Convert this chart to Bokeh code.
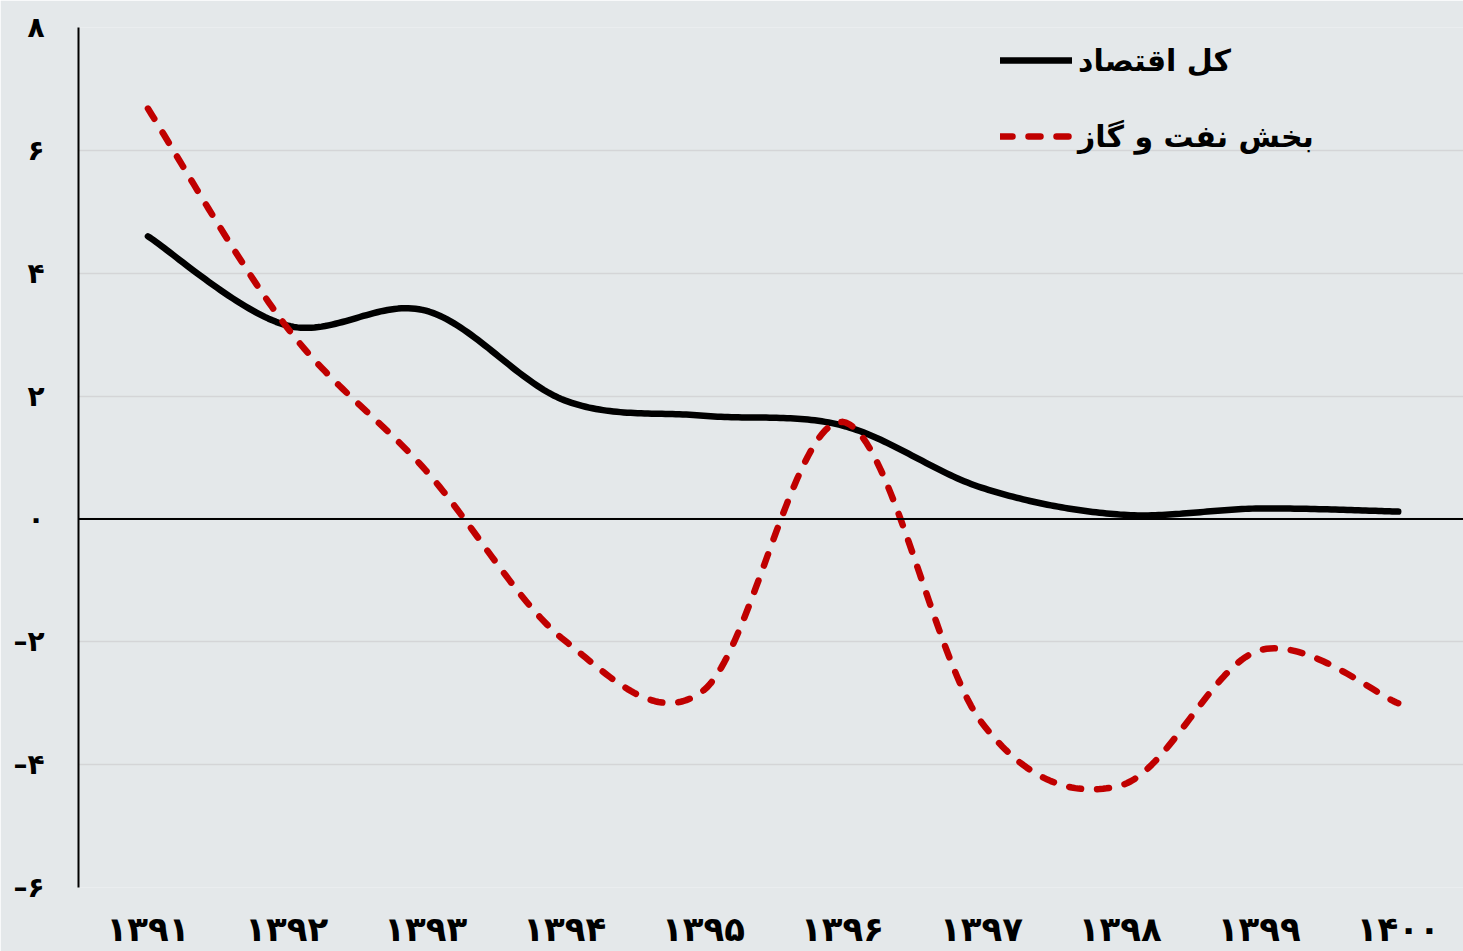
import numpy as np
from bokeh.plotting import figure
from bokeh.models import FixedTicker, Span, Legend, LegendItem, Range1d
from bokeh.embed import file_html
from bokeh.resources import INLINE

# ---------------- data ----------------
year_labels = ["۱۳۹۱", "۱۳۹۲", "۱۳۹۳", "۱۳۹۴", "۱۳۹۵",
               "۱۳۹۶", "۱۳۹۷", "۱۳۹۸", "۱۳۹۹", "۱۴۰۰"]
total_economy = [4.60, 3.15, 3.39, 1.93, 1.68, 1.52, 0.51, 0.07, 0.17, 0.12]
oil_gas = [6.68, 3.12, 0.79, -1.98, -2.79, 1.58, -3.31, -4.34, -2.14, -3.00]
y_ticks = [-6, -4, -2, 0, 2, 4, 6, 8]
y_tick_labels = ["–۶", "–۴", "–۲", "۰", "۲", "۴", "۶", "۸"]
series_names = ["کل اقتصاد", "بخش نفت و گاز"]

BG = "#E4E8EA"
FONT = "DejaVu Sans"


def smooth(vals, steps=40):
    """Excel-style smoothed line (cubic Bezier through the points)."""
    v = list(vals)
    n = len(v)
    xs, ys = [], []
    for i in range(n - 1):
        p0 = v[i]
        p3 = v[i + 1]
        pm = v[i - 1] if i > 0 else v[i]
        pp = v[i + 2] if i + 2 < n else v[i + 1]
        c1 = p0 + (p3 - pm) / 6.0
        c2 = p3 - (pp - p0) / 6.0
        x0, x3 = float(i), float(i + 1)
        xm = float(i - 1) if i > 0 else x0
        xp = float(i + 2) if i + 2 < n else x3
        cx1 = x0 + (x3 - xm) / 6.0
        cx2 = x3 - (xp - x0) / 6.0
        t = np.linspace(0, 1, steps, endpoint=(i == n - 2))
        a = (1 - t) ** 3
        b = 3 * (1 - t) ** 2 * t
        c = 3 * (1 - t) * t ** 2
        d = t ** 3
        xs.extend(a * x0 + b * cx1 + c * cx2 + d * x3)
        ys.extend(a * p0 + b * c1 + c * c2 + d * p3)
    return xs, ys


p = figure(width=1463, height=951, output_backend="svg", toolbar_location=None,
           x_range=Range1d(-0.5, 9.47), y_range=Range1d(-6, 8),
           min_border_left=78, min_border_right=0, min_border_top=27,
           min_border_bottom=64)

p.background_fill_color = BG
p.border_fill_color = BG
p.outline_line_color = None

# grid
p.xgrid.grid_line_color = None
p.ygrid.ticker = FixedTicker(ticks=y_ticks)
p.ygrid.grid_line_color = "#D4D5D7"
p.ygrid.grid_line_width = 1.5

# axes
p.yaxis.ticker = FixedTicker(ticks=y_ticks)
p.yaxis.major_label_overrides = {t: l for t, l in zip(y_ticks, y_tick_labels)}
p.yaxis.axis_line_color = "black"
p.yaxis.axis_line_width = 2
p.yaxis.major_tick_line_color = None
p.yaxis.minor_tick_line_color = None
p.yaxis.major_label_text_font = FONT
p.yaxis.major_label_text_font_style = "bold"
p.yaxis.major_label_text_font_size = "28px"
p.yaxis.major_label_text_color = "black"
p.yaxis.major_label_standoff = 28

xi = list(range(len(year_labels)))
p.xaxis.ticker = FixedTicker(ticks=xi)
p.xaxis.major_label_overrides = {i: l for i, l in zip(xi, year_labels)}
p.xaxis.axis_line_color = None
p.xaxis.major_tick_line_color = None
p.xaxis.minor_tick_line_color = None
p.xaxis.major_label_text_font = FONT
p.xaxis.major_label_text_font_style = "bold"
p.xaxis.major_label_text_font_size = "34px"
p.xaxis.major_label_text_color = "black"
p.xaxis.major_label_standoff = 15

# zero line
p.add_layout(Span(location=0, dimension="width", line_color="black", line_width=2))

# series
bx, by = smooth(total_economy)
rx, ry = smooth(oil_gas)
r_black = p.line(bx, by, line_color="black", line_width=6.5, line_cap="round",
                 line_join="round")
r_red = p.line(rx, ry, line_color="#C00000", line_width=6.5, line_cap="round",
               line_join="round", line_dash="12 16")

legend = Legend(items=[LegendItem(label=series_names[0], renderers=[r_black]),
                       LegendItem(label=series_names[1], renderers=[r_red])],
                location=(922, 731))
legend.background_fill_alpha = 0
legend.border_line_alpha = 0
legend.padding = 0
legend.margin = 0
legend.spacing = 36
legend.glyph_width = 72
legend.glyph_height = 40
legend.label_height = 40
legend.label_standoff = 6
legend.label_text_font = FONT
legend.label_text_font_style = "bold"
legend.label_text_font_size = "30px"
legend.label_text_color = "black"
p.add_layout(legend)

html = file_html(p, INLINE)
html = html.replace("<body>", '<body style="background-color:%s">' % BG, 1)
open("out.html", "w").write(html)
